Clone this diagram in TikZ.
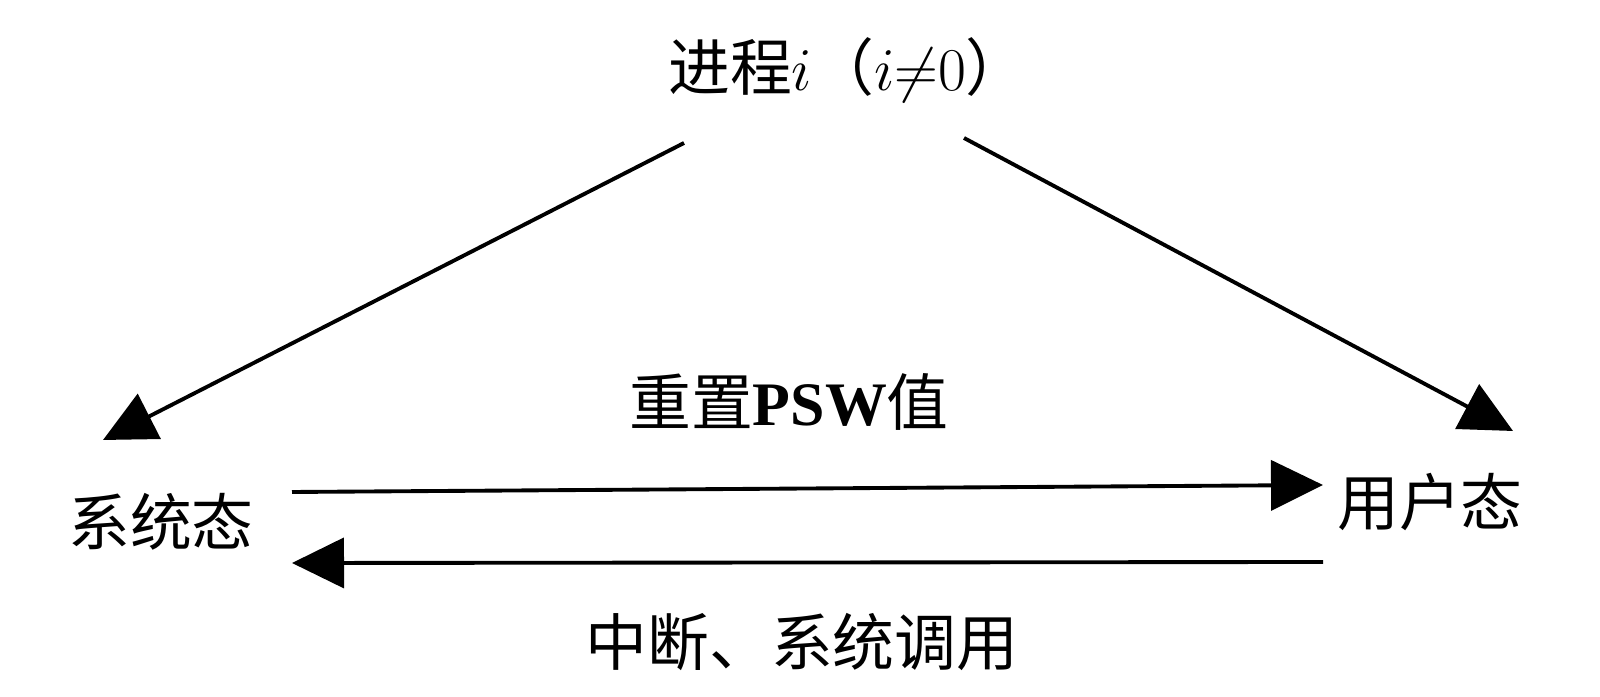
\documentclass[tikz,border=0pt]{standalone}
\usepackage{fontspec}
\setmainfont{Liberation Serif}
\newfontfamily\cjk{Noto Sans CJK SC}
\usepackage{amsmath, amssymb}
\usetikzlibrary{arrows.meta, calc, positioning}
\tikzset
{
state/.style={inner sep=0pt, font=\cjk\fontsize{17.6}{21}\selectfont},
lbl/.style={inner sep=0pt, font=\cjk\fontsize{17.6}{21}\selectfont},
trans/.style={line width=1.1pt, -{Triangle[length=0.52cm, width=0.5cm]}}
}
\begin{document}
\begin{tikzpicture}
	\useasboundingbox (0, 0) rectangle (16, -6.97);

	% states
	\node[state] (top) at (8.48, -0.70) {进程$i$（$i{\neq}0$）};
	\node[state] (sys) at (1.61, -5.22) {系统态};
	\node[state] (user) at (14.30, -5.02) {用户态};

	% labels
	\node[lbl] (reset) at (7.89, -4.02) {重置{\rmfamily\bfseries PSW}值};
	\node[lbl] (intr) at (8.02, -6.42) {中断、系统调用};

	\draw[trans] ($(top) + (-1.64, -0.73)$) -- ($(sys) + (-0.58, 0.82)$);
	\draw[trans] ($(top) + (1.16, -0.68)$) -- ($(user) + (0.83, 0.71)$);
	\draw[trans] ($(sys) + (1.31, 0.30)$) -- ($(user) + (-1.07, 0.17)$);
	\draw[trans] ($(user) + (-1.07, -0.60)$) -- ($(sys) + (1.31, -0.41)$);
\end{tikzpicture}
\end{document}
